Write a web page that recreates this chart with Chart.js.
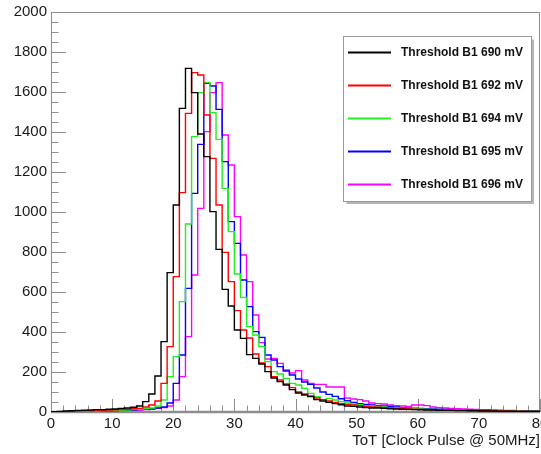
<!DOCTYPE html>
<html>
<head>
<meta charset="utf-8">
<script src="https://cdn.jsdelivr.net/npm/chart.js@4/dist/chart.umd.min.js"></script>
<style>
  html, body { margin: 0; padding: 0; background: #ffffff; }
  #wrap { width: 541px; height: 454px; }
</style>
</head>
<body>
<div id="wrap"><canvas id="c" width="541" height="454"></canvas></div>
<script>
// ToT histograms, one bin per clock pulse (bins 0..79)
const binLow = Array.from({ length: 80 }, (_, k) => k);

const labels = [
  'Threshold B1 690 mV',
  'Threshold B1 692 mV',
  'Threshold B1 694 mV',
  'Threshold B1 695 mV',
  'Threshold B1 696 mV'
];

const counts690 = [
  0, 2, 3, 5, 6, 8, 9, 10, 12, 12,
  14, 15, 18, 20, 24, 30, 52, 90, 180, 352,
  697, 1035, 1518, 1718, 1597, 1390, 1277, 1002, 813, 613,
  530, 410, 368, 287, 268, 240, 202, 170, 152, 135,
  112, 95, 85, 77, 62, 55, 48, 42, 36, 30,
  28, 25, 22, 20, 20, 18, 16, 15, 14, 13,
  12, 11, 10, 10, 9, 8, 8, 7, 7, 6,
  6, 5, 5, 5, 4, 4, 4, 3, 3, 3
];

const counts692 = [
  0, 1, 2, 3, 4, 5, 6, 7, 8, 9,
  10, 11, 12, 14, 16, 18, 25, 35, 55, 143,
  327, 677, 1097, 1493, 1697, 1685, 1485, 1268, 1035, 798,
  652, 507, 410, 370, 290, 245, 227, 177, 160, 140,
  122, 100, 90, 80, 70, 62, 55, 48, 42, 38,
  35, 32, 28, 25, 24, 22, 20, 18, 17, 15,
  14, 13, 12, 11, 10, 10, 9, 8, 8, 7,
  7, 6, 6, 5, 5, 5, 4, 4, 3, 3
];

const counts694 = [
  0, 1, 1, 2, 3, 3, 4, 5, 5, 6,
  7, 8, 9, 10, 12, 14, 16, 20, 30, 60,
  177, 277, 552, 940, 1377, 1597, 1648, 1497, 1363, 1118,
  902, 690, 573, 427, 385, 327, 252, 202, 190, 168,
  143, 135, 118, 93, 77, 62, 68, 60, 52, 45,
  40, 36, 32, 30, 28, 25, 22, 20, 19, 18,
  16, 15, 14, 13, 12, 11, 10, 10, 9, 8,
  8, 7, 7, 6, 6, 5, 5, 5, 4, 4
];

const counts695 = [
  0, 1, 1, 2, 2, 3, 3, 4, 5, 5,
  6, 7, 8, 9, 10, 12, 14, 16, 20, 25,
  45, 143, 285, 618, 1093, 1338, 1643, 1630, 1513, 1252,
  952, 843, 660, 527, 402, 373, 285, 260, 227, 205,
  185, 165, 150, 138, 120, 100, 88, 78, 66, 56,
  48, 42, 38, 35, 32, 30, 28, 25, 22, 20,
  19, 18, 16, 15, 14, 13, 12, 11, 10, 10,
  9, 8, 8, 7, 7, 6, 6, 5, 5, 5
];

const counts696 = [
  0, 0, 1, 1, 2, 2, 3, 3, 4, 4,
  5, 6, 7, 8, 9, 10, 12, 14, 18, 22,
  30, 60, 177, 377, 685, 1018, 1402, 1597, 1647, 1385,
  1235, 977, 785, 652, 485, 347, 265, 268, 243, 210,
  195, 207, 160, 143, 138, 138, 125, 125, 125, 70,
  65, 62, 55, 45, 42, 40, 35, 32, 30, 28,
  35, 35, 32, 25, 22, 20, 18, 16, 15, 14,
  13, 12, 11, 10, 9, 8, 8, 7, 6, 6
];

const xTicks = [0, 10, 20, 30, 40, 50, 60, 70, 80];
const yTicks = [0, 200, 400, 600, 800, 1000, 1200, 1400, 1600, 1800, 2000];
const xTitle = 'ToT [Clock Pulse @ 50MHz]';

const lineColors = ['#000000', '#ff0000', '#22ee22', '#0000ff', '#ff00ff'];
const FONT = '"Liberation Sans", Arial, Helvetica, sans-serif';

// histogram outline: one point per bin low edge plus the closing edge
function histPoints(values) {
  const pts = binLow.map((x, i) => ({ x: x, y: values[i] }));
  pts.push({ x: binLow[binLow.length - 1] + 1, y: values[values.length - 1] });
  return pts;
}

const allCounts = [counts690, counts692, counts694, counts695, counts696];

const datasets = allCounts.map((vals, i) => ({
  label: labels[i],
  data: histPoints(vals),
  borderColor: lineColors[i],
  borderWidth: 1.4,
  stepped: 'after',
  pointRadius: 0,
  fill: false,
  tension: 0
}));

// frame and inward ticks, ROOT style
const frameTicks = {
  id: 'frameTicks',
  beforeDatasetsDraw(chart) {
    const { ctx, chartArea: a, scales: { x, y } } = chart;
    ctx.save();
    ctx.strokeStyle = '#8e8e8e';
    ctx.lineWidth = 1;
    ctx.beginPath();
    ctx.moveTo(a.left + 0.5, a.bottom);
    ctx.lineTo(a.left + 0.5, a.top + 0.5);
    ctx.lineTo(a.right - 0.5, a.top + 0.5);
    ctx.lineTo(a.right - 0.5, a.bottom);
    ctx.stroke();
    // y ticks
    ctx.beginPath();
    for (let v = 0; v <= 2000; v += 50) {
      const py = Math.round(y.getPixelForValue(v)) + 0.5;
      const len = v % 200 === 0 ? 15 : 7.5;
      ctx.moveTo(a.left, py);
      ctx.lineTo(a.left + len, py);
    }
    // x ticks
    for (let v = 0; v <= 80; v += 2) {
      const px = Math.round(x.getPixelForValue(v)) + 0.5;
      const len = v % 10 === 0 ? 13 : 6.5;
      ctx.moveTo(px, a.bottom);
      ctx.lineTo(px, a.bottom - len);
    }
    ctx.stroke();
    // bottom axis line
    ctx.lineWidth = 2.5;
    ctx.beginPath();
    ctx.moveTo(a.left, a.bottom);
    ctx.lineTo(a.right, a.bottom);
    ctx.stroke();
    ctx.restore();
  },
  afterDraw(chart) {
    const { ctx } = chart;
    ctx.save();
    // axis title
    ctx.fillStyle = '#1a1a1a';
    ctx.font = '15px ' + FONT;
    ctx.textAlign = 'right';
    ctx.textBaseline = 'middle';
    ctx.fillText(xTitle, 540, 441);

    // legend box
    const bx = 343.5, by = 36.5, bw = 188, bh = 165;
    ctx.fillStyle = '#ffffff';
    ctx.fillRect(bx, by, bw, bh);
    ctx.strokeStyle = '#9a9a9a';
    ctx.lineWidth = 1;
    ctx.strokeRect(bx, by, bw, bh);
    ctx.strokeStyle = '#b5b5b5';
    ctx.lineWidth = 2;
    ctx.beginPath();
    ctx.moveTo(bx + 3, by + bh + 1.5);
    ctx.lineTo(bx + bw + 1.5, by + bh + 1.5);
    ctx.lineTo(bx + bw + 1.5, by + 3);
    ctx.stroke();

    ctx.font = 'bold 12px ' + FONT;
    ctx.textAlign = 'left';
    ctx.textBaseline = 'middle';
    chart.data.datasets.forEach((ds, i) => {
      const cy = 52.5 + i * 33;
      ctx.strokeStyle = ds.borderColor;
      ctx.lineWidth = 2;
      ctx.beginPath();
      ctx.moveTo(348, cy);
      ctx.lineTo(391, cy);
      ctx.stroke();
      ctx.fillStyle = '#111111';
      ctx.fillText(ds.label, 401, cy);
    });
    ctx.restore();
  }
};

new Chart(document.getElementById('c'), {
  type: 'line',
  data: { datasets: datasets },
  options: {
    responsive: false,
    animation: false,
    devicePixelRatio: 1,
    layout: { padding: { top: 12, right: 1, left: 0, bottom: 0 } },
    plugins: { legend: { display: false }, tooltip: { enabled: false } },
    scales: {
      x: {
        type: 'linear',
        min: 0,
        max: 80,
        grid: { display: false, drawTicks: false },
        border: { display: false },
        afterBuildTicks(s) { s.ticks = xTicks.map(v => ({ value: v })); },
        ticks: {
          padding: 3,
          maxRotation: 0,
          autoSkip: false,
          color: '#1a1a1a',
          font: { family: FONT, size: 15 },
          callback: v => String(v)
        },
        afterFit(s) { s.height = 42; s.paddingLeft = 0; s.paddingRight = 0; }
      },
      y: {
        min: 0,
        max: 2000,
        grid: { display: false, drawTicks: false },
        border: { display: false },
        afterBuildTicks(s) { s.ticks = yTicks.map(v => ({ value: v })); },
        ticks: {
          padding: 4,
          color: '#1a1a1a',
          font: { family: FONT, size: 15 },
          callback: v => String(v)
        },
        afterFit(s) { s.width = 51; s.paddingTop = 0; s.paddingBottom = 0; }
      }
    }
  },
  plugins: [frameTicks]
});
</script>
</body>
</html>
